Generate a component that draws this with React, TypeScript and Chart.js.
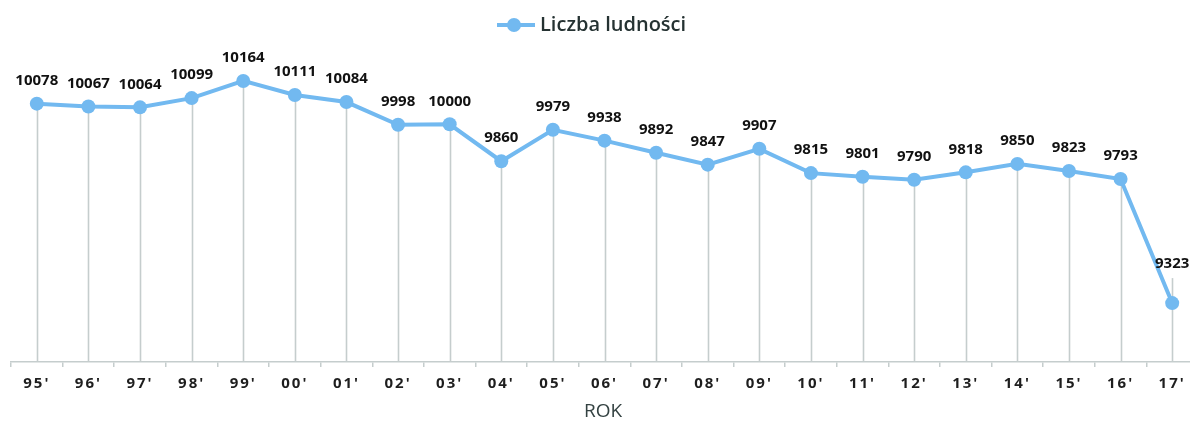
import React, { useEffect, useRef } from "react";
import { Chart, registerables } from "chart.js";

Chart.register(...registerables);

const years = ["95'", "96'", "97'", "98'", "99'", "00'", "01'", "02'", "03'", "04'", "05'", "06'", "07'", "08'", "09'", "10'", "11'", "12'", "13'", "14'", "15'", "16'", "17'"];
const population = [10078, 10067, 10064, 10099, 10164, 10111, 10084, 9998, 10000, 9860, 9979, 9938, 9892, 9847, 9907, 9815, 9801, 9790, 9818, 9850, 9823, 9793, 9323];
const seriesName = "Liczba ludności";
const axisTitle = "ROK";

const LINE_COLOR = "#72b9f0";
const GRID_COLOR = "#c5cdcd";
const FONT = "'Open Sans', 'Noto Sans', sans-serif";

const extrasPlugin = {
  id: "extras",
  beforeDraw(chart: any) {
    const ctx = chart.ctx;
    ctx.letterSpacing = "2px";
  },
  beforeDatasetsDraw(chart: any) {
    const ctx = chart.ctx;
    ctx.letterSpacing = "0px";
    const meta = chart.getDatasetMeta(0);
    const bottom = chart.chartArea.bottom;
    const vals = chart.data.datasets[0].data as number[];
    ctx.save();
    ctx.strokeStyle = GRID_COLOR;
    ctx.lineWidth = 1.6;
    meta.data.forEach((pt: any, i: number) => {
      const steep = i > 0 && vals[i - 1] - vals[i] > 200;
      const top = pt.y - (steep ? 25 : 0);
      ctx.beginPath();
      ctx.moveTo(Math.round(pt.x) + 0.5, top);
      ctx.lineTo(Math.round(pt.x) + 0.5, bottom);
      ctx.stroke();
    });
    ctx.restore();
  },
  afterDraw(chart: any) {
    const ctx = chart.ctx;
    ctx.save();
    ctx.letterSpacing = "0px";
    const meta = chart.getDatasetMeta(0);
    const vals = chart.data.datasets[0].data as number[];
    // data labels
    ctx.font = `bold 15px ${FONT}`;
    ctx.fillStyle = "#111111";
    ctx.textAlign = "center";
    ctx.textBaseline = "middle";
    meta.data.forEach((pt: any, i: number) => {
      const steep = i > 0 && vals[i - 1] - vals[i] > 200;
      ctx.fillText(String(vals[i]), pt.x, pt.y - (steep ? 39 : 23));
    });
    // axis title
    ctx.font = `19px ${FONT}`;
    ctx.fillStyle = "#344242";
    ctx.fillText(axisTitle, 603, 412);
    // legend
    const lx = 497;
    const ly = 25;
    ctx.strokeStyle = LINE_COLOR;
    ctx.lineWidth = 4;
    ctx.beginPath();
    ctx.moveTo(lx, ly);
    ctx.lineTo(lx + 38, ly);
    ctx.stroke();
    ctx.fillStyle = LINE_COLOR;
    ctx.beginPath();
    ctx.arc(lx + 17, ly, 7, 0, Math.PI * 2);
    ctx.fill();
    ctx.font = `600 20px ${FONT}`;
    ctx.fillStyle = "#253232";
    ctx.textAlign = "left";
    ctx.fillText(seriesName, lx + 43, ly);
    ctx.restore();
  },
};

export default function App() {
  const ref = useRef<HTMLCanvasElement | null>(null);
  useEffect(() => {
    if (!ref.current) return;
    const chart = new Chart(ref.current, {
      type: "line",
      data: {
        labels: years,
        datasets: [
          {
            label: seriesName,
            data: population,
            borderColor: LINE_COLOR,
            backgroundColor: LINE_COLOR,
            borderWidth: 4,
            pointRadius: 7,
            pointHoverRadius: 7,
            pointBackgroundColor: LINE_COLOR,
            pointBorderWidth: 0,
            tension: 0,
          },
        ],
      },
      options: {
        animation: false,
        responsive: true,
        maintainAspectRatio: false,
        layout: { padding: { left: 11, right: 3, top: 45, bottom: 22 } },
        plugins: {
          legend: { display: false },
          tooltip: { enabled: false },
        },
        scales: {
          x: {
            offset: true,
            grid: {
              offset: true,
              drawOnChartArea: false,
              color: GRID_COLOR,
              tickLength: 5,
              lineWidth: 1.5,
            },
            border: { color: GRID_COLOR, width: 1.5 },
            ticks: {
              color: "#1e1e1e",
              font: { family: FONT, size: 15, weight: "bold" },
              padding: 8,
              maxRotation: 0,
              autoSkip: false,
            },
          },
          y: {
            display: false,
            min: 9100,
            max: 10300,
          },
        },
      },
      plugins: [extrasPlugin],
    });
    return () => chart.destroy();
  }, []);
  return (
    <div style={{ position: "fixed", left: 0, top: 0, width: 1190, height: 423, overflow: "hidden", background: "#fff" }}>
      <div style={{ position: "relative", width: 1205, height: 423 }}>
        <canvas ref={ref} />
      </div>
    </div>
  );
}
